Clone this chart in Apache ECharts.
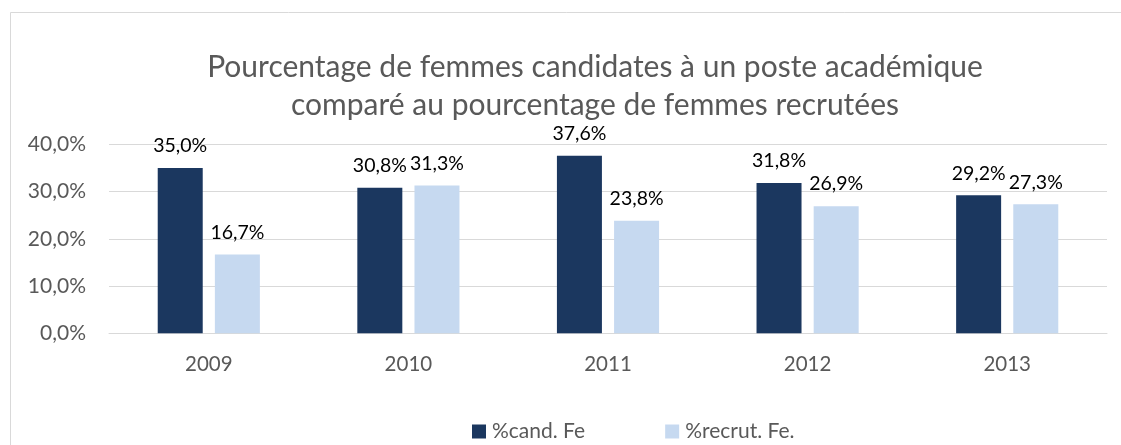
<!DOCTYPE html>
<html><head><meta charset="utf-8">
<script src="https://cdn.jsdelivr.net/npm/echarts@6/dist/echarts.min.js"></script>
<style>html,body{margin:0;padding:0;background:#fff}#c{width:1121px;height:445px}</style>
</head><body><div id="c"></div>
<script>
var categories = ['2009','2010','2011','2012','2013'];
var candFe = [35.0, 30.8, 37.6, 31.8, 29.2];
var recrutFe = [16.7, 31.3, 23.8, 26.9, 27.3];
var seriesNames = ['%cand. Fe', '%recrut. Fe.'];
var yTicks = {min: 0, max: 40, interval: 10};

var FONT = 'Lato';
function pct(v){ return v.toFixed(1).replace('.', ',') + '%'; }
var chart = echarts.init(document.getElementById('c'), null, {renderer:'canvas'});
chart.setOption({
  backgroundColor: '#fff',
  animation: false,
  textStyle: {fontFamily: FONT},
  graphic: [{type:'rect', shape:{x:10.5, y:12.5, width:1130, height:450}, style:{fill:'none', stroke:'#d9d9d9', lineWidth:1}}],
  title: {
    text: 'Pourcentage de femmes candidates à un poste académique\ncomparé au pourcentage de femmes recrutées',
    left: 590, top: 43, textAlign: 'center',
    textStyle: {fontFamily: FONT, fontSize: 30, fontWeight: 'normal', color: '#595959', lineHeight: 38}
  },
  legend: {
    data: seriesNames, left: 467, top: 416, itemWidth: 14, itemHeight: 14, itemGap: 80,
    textStyle: {fontFamily: FONT, fontSize: 21, color: '#595959', padding: [0,0,0,1]}, icon: 'rect'
  },
  grid: {left: 109, right: 14, top: 144.3, bottom: 111.7, containLabel: false},
  xAxis: {
    type: 'category', data: categories,
    axisLine: {show: true, lineStyle: {color: '#d9d9d9', width: 1}},
    axisTick: {show: false},
    axisLabel: {fontFamily: FONT, fontSize: 20.5, color: '#595959', margin: 21}
  },
  yAxis: {
    type: 'value', min: yTicks.min, max: yTicks.max, interval: yTicks.interval,
    axisLine: {show: false}, axisTick: {show: false},
    splitLine: {lineStyle: {color: '#d9d9d9', width: 1}},
    axisLabel: {fontFamily: FONT, fontSize: 21, color: '#595959', margin: 23, formatter: function(v){return pct(v);}}
  },
  series: [
    {name: seriesNames[0], type: 'bar', data: candFe, barWidth: 45, barGap: '27%',
     itemStyle: {color: '#1b375f'},
     label: {show: true, position: 'top', distance: 12, fontFamily: FONT, fontSize: 19.5, color: '#000', formatter: function(p){return pct(p.value);}}},
    {name: seriesNames[1], type: 'bar', data: recrutFe, barWidth: 45,
     itemStyle: {color: '#c6d9f0'},
     label: {show: true, position: 'top', distance: 12, fontFamily: FONT, fontSize: 19.5, color: '#000', formatter: function(p){return pct(p.value);}}}
  ]
});
</script></body></html>
